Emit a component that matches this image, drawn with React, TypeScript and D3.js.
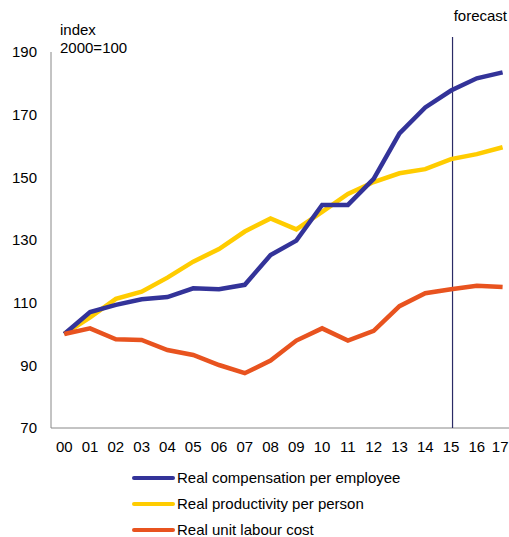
import React from "react";
import * as d3 from "d3";

const years = ["00","01","02","03","04","05","06","07","08","09","10","11","12","13","14","15","16","17"];
const compensation = [100,107,109.3,111.1,111.8,114.6,114.3,115.7,125.2,129.8,141.2,141.2,149.5,164,172.3,177.7,181.6,183.5];
const productivity = [100,105.3,111.2,113.5,118,123.1,127.1,132.7,136.9,133.4,139,144.7,148.5,151.3,152.6,155.8,157.4,159.6];
const unitLabourCost = [100,101.8,98.3,98.1,94.9,93.3,90.1,87.5,91.5,97.9,101.8,97.9,101,108.9,113,114.3,115.4,115];
const yTicks = [70,90,110,130,150,170,190];
const seriesNames = ["Real compensation per employee","Real productivity per person","Real unit labour cost"];
const seriesColors = ["#333399","#FFCC00","#E8531F"];

export default function App() {
  const W = 509, H = 537;
  const x = d3.scalePoint<string>().domain(years).range([64.3, 502.6]);
  const y = d3.scaleLinear().domain([70, 190]).range([428, 52]);
  const line = d3.line<number>().x((_, i) => x(years[i]) as number).y(d => y(d));
  const series = [compensation, productivity, unitLabourCost];
  const font = "Liberation Sans, Arial, sans-serif";
  const fx = x("15") as number;
  return (
    <svg width={W} height={H} style={{ position: "absolute", left: 0, top: 0 }} fontFamily={font}>
      <rect width={W} height={H} fill="#fff" />
      {yTicks.map(t => (
        <text key={t} x={37} y={y(t)} dy="0.35em" textAnchor="end" fontSize={15} fill="#000">{t}</text>
      ))}
      {years.map((yr, i) => {
        const last = i === years.length - 1;
        return (
          <text key={yr} x={last ? 508.5 : (x(yr) as number)} y={447} dy="0.35em" textAnchor={last ? "end" : "middle"} fontSize={15} fill="#000">{yr}</text>
        );
      })}
      <line x1={51} x2={51} y1={52} y2={428} stroke="#888" strokeWidth={1} />
      <line x1={51} x2={509} y1={428} y2={428} stroke="#888" strokeWidth={1} />
      <line x1={fx + 1.5} x2={fx + 1.5} y1={37} y2={428} stroke="#2B2B66" strokeWidth={1.2} />
      <text x={507} y={21} textAnchor="end" fontSize={15} fill="#000">forecast</text>
      <text x={60} y={35} fontSize={15} fill="#000">index</text>
      <text x={60} y={53} fontSize={15} fill="#000">2000=100</text>
      {[productivity, compensation, unitLabourCost].map((s, k) => {
        const idx = series.indexOf(s);
        return <path key={k} d={line(s) as string} fill="none" stroke={seriesColors[idx]} strokeWidth={4.5} strokeLinejoin="miter" />;
      })}
      {seriesNames.map((n, i) => (
        <g key={n} transform={`translate(0, ${478 + i * 26})`}>
          <line x1={134} x2={173} y1={0} y2={0} stroke={seriesColors[i]} strokeWidth={4} strokeLinecap="round" />
          <text x={177} y={0} dy="0.35em" fontSize={15} fill="#000">{n}</text>
        </g>
      ))}
    </svg>
  );
}
